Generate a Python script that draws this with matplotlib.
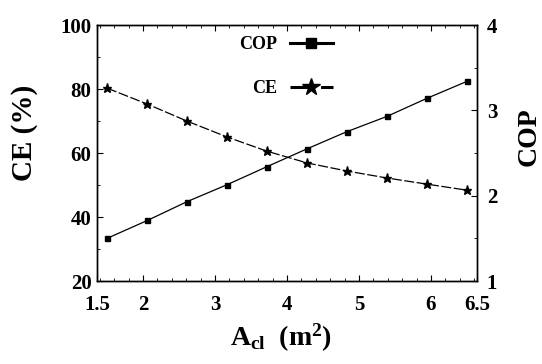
import numpy as np
import matplotlib
matplotlib.use("Agg")
import matplotlib.pyplot as plt
from matplotlib.ticker import MultipleLocator

# data
area = [1.5, 2.06, 2.61, 3.17, 3.72, 4.28, 4.83, 5.39, 5.94, 6.5]
ce = [80.3, 75.3, 70.0, 65.0, 60.6, 56.9, 54.4, 52.2, 50.3, 48.4]
cop = [1.50, 1.71, 1.93, 2.13, 2.34, 2.55, 2.75, 2.93, 3.14, 3.34]

xtick_pos = [2, 3, 4, 5, 6]
xtick_lab = ["1.5", "2", "3", "4", "5", "6", "6.5"]

plt.rcParams['font.family'] = ['Liberation Serif', 'DejaVu Serif']
plt.rcParams['font.weight'] = 'bold'
plt.rcParams['mathtext.fontset'] = 'custom'
plt.rcParams['mathtext.rm'] = 'Liberation Serif:bold'
plt.rcParams['mathtext.bf'] = 'Liberation Serif:bold'
plt.rcParams['mathtext.it'] = 'Liberation Serif:bold'

fig = plt.figure(figsize=(5.42, 3.64), dpi=100)
ax = fig.add_axes([0.179, 0.228, 0.701, 0.703])
ax2 = ax.twinx()

x0, x1 = 1.36, 6.64
ax.set_xlim(x0, x1)
ax.set_ylim(20, 100)
ax2.set_ylim(1, 4)

l_ce, = ax.plot(area, ce, color='black', lw=0.9, ls=(0, (8, 2)),
                marker='*', ms=6.5, label='CE')
l_cop, = ax2.plot(area, cop, color='black', lw=0.9, ls='-',
                  marker='s', ms=3.6, label='COP')

# ticks: end labels sit at the axis edges
ax.set_xticks([x0] + xtick_pos + [x1])
ax.set_xticklabels(xtick_lab)
ax.xaxis.set_minor_locator(MultipleLocator(0.2))
ax.yaxis.set_major_locator(MultipleLocator(20))
ax.yaxis.set_minor_locator(MultipleLocator(10))
ax2.yaxis.set_major_locator(MultipleLocator(1))
ax2.yaxis.set_minor_locator(MultipleLocator(0.5))

ax.tick_params(which='both', direction='in', top=True, labelsize=15)
ax.tick_params(axis='x', pad=10)
ax.tick_params(axis='y', left=True, right=False, pad=4)
ax.tick_params(which='major', length=4, width=0.8)
ax.tick_params(which='minor', length=2.5, width=0.6)
ax2.tick_params(which='both', direction='in', labelsize=15, pad=7)
ax2.tick_params(which='major', length=4, width=0.8)
ax2.tick_params(which='minor', length=2.5, width=0.6)

for a in (ax, ax2):
    for s in a.spines.values():
        s.set_linewidth(1.0)

ax.set_ylabel("CE (%)", fontsize=21, fontweight='bold')
ax.yaxis.set_label_coords(-0.155, 0.578)
ax2.set_ylabel("COP", fontsize=20, fontweight='bold')
ax2.yaxis.set_label_coords(1.105, 0.5625)
ax.set_xlabel(r"$\mathbf{A_{cl}}$  $\mathbf{(m^2)}$", fontsize=20)
ax.xaxis.set_label_coords(0.484, -0.16)

leg = ax2.legend([l_cop, l_ce], ["COP", "CE"], loc='upper right',
                 bbox_to_anchor=(0.64, 0.985), frameon=False, markerfirst=False,
                 fontsize=13, labelspacing=1.5, handlelength=2.4,
                 handletextpad=0.7, markerscale=2.0, borderaxespad=0)
for ln in leg.get_lines():
    ln.set_linewidth(2.2)

fig.savefig("out.png", dpi=100)
